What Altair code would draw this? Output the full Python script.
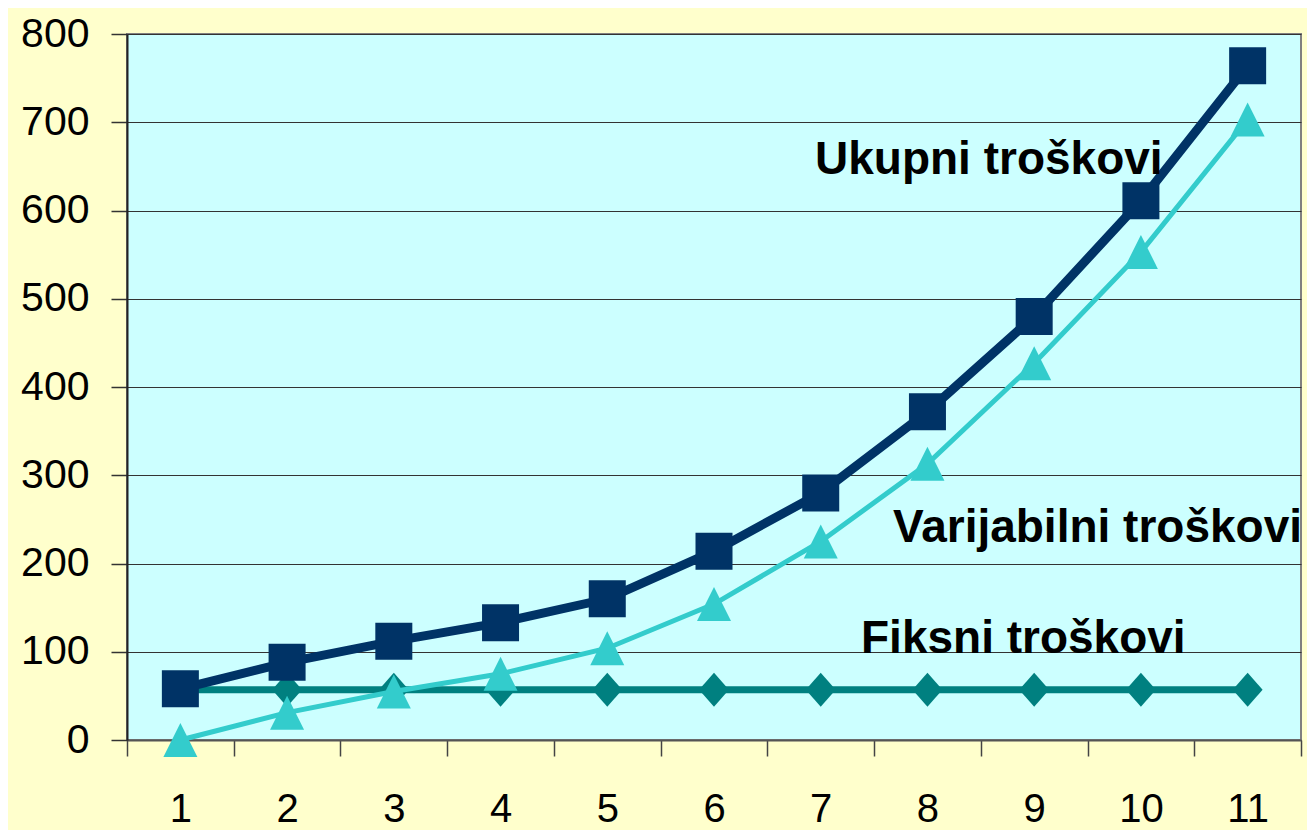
import altair as alt
import pandas as pd

# Data
periods = ["1", "2", "3", "4", "5", "6", "7", "8", "9", "10", "11"]
fiksni = [57, 57, 57, 57, 57, 57, 57, 57, 57, 57, 57]
varijabilni = [0, 31, 55, 75, 104, 154, 225, 313, 427, 553, 703]
ukupni = [58, 88, 112, 133, 160, 214, 280, 372, 480, 611, 764]
y_ticks = [0, 100, 200, 300, 400, 500, 600, 700, 800]

labels = ["Ukupni troškovi", "Varijabilni troškovi", "Fiksni troškovi"]

W, H = 1174, 706

xscale = alt.Scale(domain=periods, paddingInner=0, paddingOuter=0)
yscale = alt.Scale(domain=[0, 800], nice=False)

xaxis = alt.Axis(
    title=None, grid=False, tickBand="extent", labelAngle=0,
    labelFontSize=40, labelFont="Liberation Sans", labelColor="#000000",
    labelPadding=33, tickSize=16, tickColor="#444444", tickWidth=1.5,
    domainColor="#555555", domainWidth=2,
)
yaxis = alt.Axis(
    title=None, values=y_ticks, grid=True, gridColor="#333333", gridWidth=1,
    labelFontSize=41, labelFont="Liberation Sans", labelColor="#000000",
    labelPadding=22, tickSize=16, tickColor="#333333", tickWidth=1.5,
    domainColor="#222222", domainWidth=2,
)


def series(values, color, stroke, shape, size):
    df = pd.DataFrame({"x": periods, "y": values})
    base = alt.Chart(df).encode(
        x=alt.X("x:N", scale=xscale, axis=xaxis, sort=periods),
        y=alt.Y("y:Q", scale=yscale, axis=yaxis),
    )
    line = base.mark_line(color=color, strokeWidth=stroke)
    pts = base.mark_point(shape=shape, size=size, filled=True, color=color, opacity=1)
    return line + pts


fixed_layer = series(fiksni, "#008080", 7, "M-0.88,0L0,-1L0.88,0L0,1Z", 1156)
var_layer = series(varijabilni, "#33CCCC", 5, "M0,-1L1,1L-1,1Z", 1156)
tot_layer = series(ukupni, "#003366", 9, "square", 1369)

lab_df = pd.DataFrame({"label": labels})


def annot(i, px, py):
    return alt.Chart(lab_df.iloc[[i]]).mark_text(
        align="left", baseline="alphabetic", fontSize=46, fontWeight="bold",
        font="Liberation Sans", color="#000000",
    ).encode(text="label:N", x=alt.value(px), y=alt.value(py))


chart = alt.layer(
    fixed_layer, var_layer, tot_layer,
    annot(0, 688, 140), annot(1, 766, 508), annot(2, 734, 619),
).properties(
    width=W, height=H,
    autosize=alt.AutoSizeParams(type="none"),
    padding={"left": 119, "top": 26, "right": 6, "bottom": 90},
    background="#FFFFCC",
).configure_view(
    fill="#CCFFFF", stroke="#808080", strokeWidth=2,
)

chart.save("out.html", embed_options={"renderer": "svg", "actions": False})
